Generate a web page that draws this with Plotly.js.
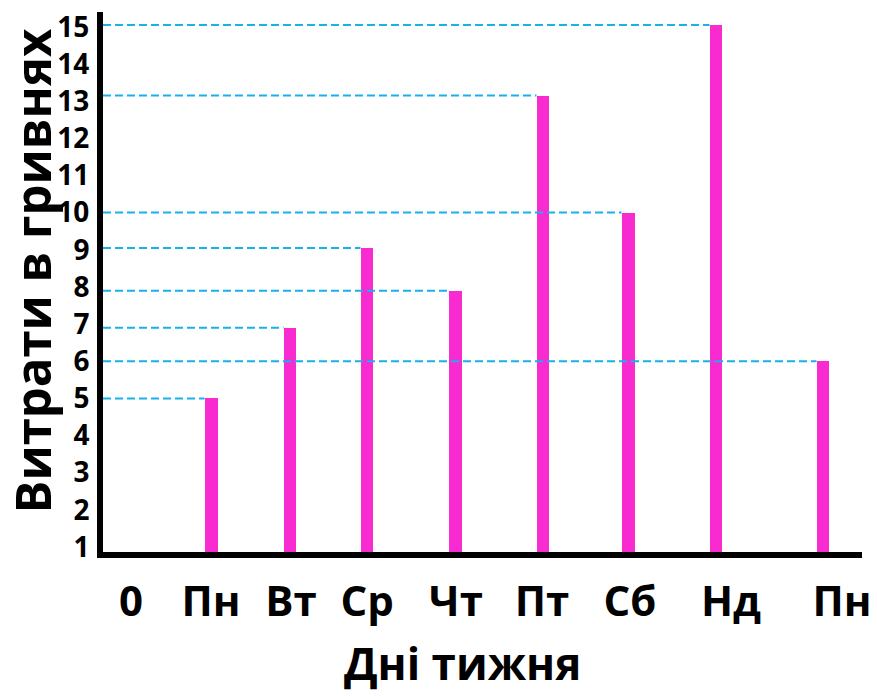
<!DOCTYPE html>
<html>
<head>
<meta charset="utf-8">
<script src="https://cdn.plot.ly/plotly-3.0.1.min.js"></script>
<style>
  html, body { margin: 0; padding: 0; background: #ffffff; }
  #chart { width: 877px; height: 696px; }
</style>
</head>
<body>
<div id="chart"></div>
<script>
// Tick labels of the x axis (days of the week, starting from 0)
const dayLabels = ['0', 'Пн', 'Вт', 'Ср', 'Чт', 'Пт', 'Сб', 'Нд', 'Пн'];
// Where each day label sits along the x axis (day units)
const labelPos = [0, 0.925, 1.85, 2.73, 3.757, 4.751, 5.769, 6.936, 8.22];
// Bars: position along the x axis and the spending value (hryvnias)
const barDays = ['Пн', 'Вт', 'Ср', 'Чт', 'Пт', 'Сб', 'Нд', 'Пн (2)'];
const barPos = [0.925, 1.838, 2.728, 3.746, 4.763, 5.746, 6.763, 8.0];
const spending = [5, 6.9, 9.05, 7.9, 13.15, 10, 15.05, 6];
// y tick values
const yTicks = [1, 2, 3, 4, 5, 6, 7, 8, 9, 10, 11, 12, 13, 14, 15];
// axis titles
const xTitle = 'Дні тижня';
const yTitle = 'Витрати в гривнях';

const BAR_W = 0.15;
const X_RANGE = [-0.324, 8.451];
const Y_RANGE = [0.865, 15.40];
const FONT = '"Open Sans", "Noto Sans", sans-serif';

const traces = [];
// dashed guide lines from the y axis to each bar top
spending.forEach((v, i) => {
  traces.push({
    type: 'scatter', mode: 'lines',
    x: [X_RANGE[0], barPos[i] - BAR_W / 2],
    y: [v, v],
    line: { color: '#1ab0ec', width: 2, dash: '8px,4px' },
    hoverinfo: 'skip', showlegend: false
  });
});
traces.push({
  type: 'bar',
  x: barPos,
  y: spending,
  width: BAR_W,
  text: barDays,
  hoverinfo: 'y',
  textposition: 'none',
  marker: { color: '#f72bd0', line: { width: 0 } },
  showlegend: false
});

const layout = {
  width: 877, height: 696,
  margin: { l: 103, r: 15, t: 12, b: 144 },
  paper_bgcolor: '#ffffff', plot_bgcolor: '#ffffff',
  font: { family: FONT, color: '#000000' },
  xaxis: {
    range: X_RANGE,
    tickmode: 'array', tickvals: labelPos, ticktext: dayLabels,
    tickfont: { family: FONT, size: 42, weight: 'bold', color: '#000' },
    ticks: '', showgrid: false, zeroline: false,
    showline: true, linecolor: '#000', linewidth: 6,
    ticklabelstandoff: 8,
    fixedrange: true
  },
  yaxis: {
    range: Y_RANGE,
    tickmode: 'array', tickvals: yTicks, ticktext: yTicks.map(String),
    tickfont: { family: FONT, size: 28, weight: 'bold', color: '#000' },
    ticks: '', showgrid: false, zeroline: false,
    showline: true, linecolor: '#000', linewidth: 6,
    ticklabelstandoff: 2,
    fixedrange: true
  },
  annotations: [{
    text: xTitle, showarrow: false,
    xref: 'paper', yref: 'paper', x: 0.473, y: -0.205,
    xanchor: 'center', yanchor: 'middle',
    font: { family: FONT, size: 44, weight: 'bold', color: '#000' }
  }, {
    text: yTitle, showarrow: false, textangle: -90,
    xref: 'paper', yref: 'paper', x: -0.093, y: 0.522,
    xanchor: 'center', yanchor: 'middle',
    font: { family: FONT, size: 49, weight: 'bold', color: '#000' }
  }],
  bargap: 0,
  showlegend: false
};

Plotly.newPlot('chart', traces, layout, { displayModeBar: false, staticPlot: true });
</script>
</body>
</html>
